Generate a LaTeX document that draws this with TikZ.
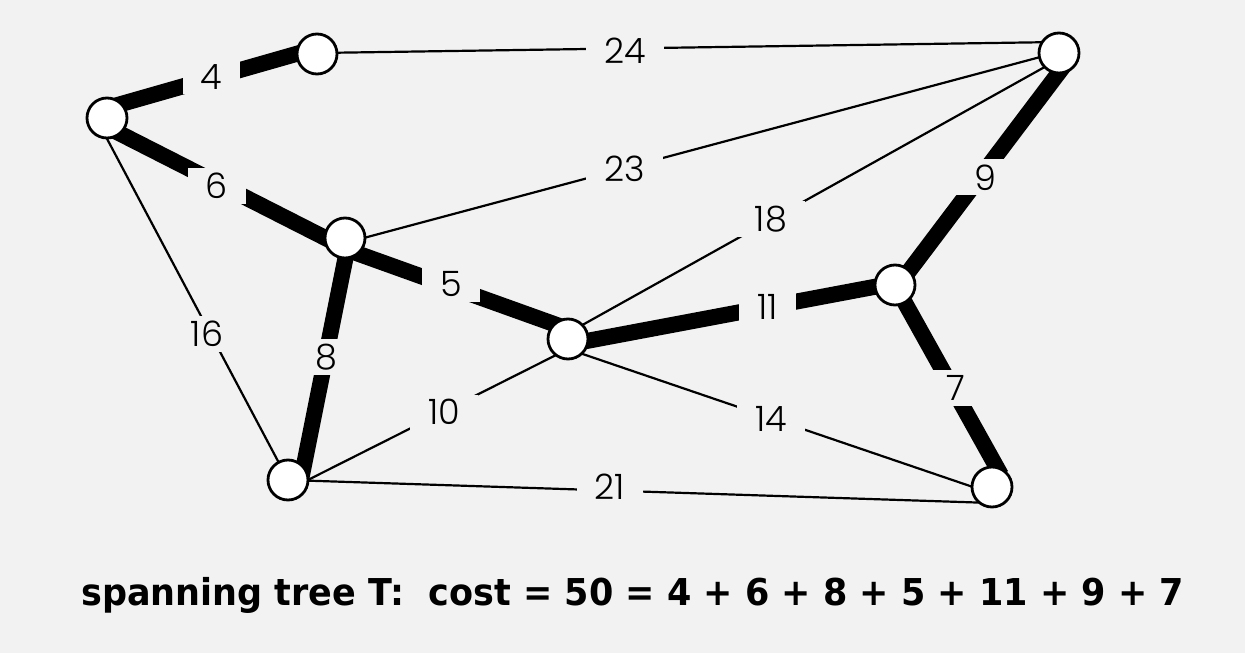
\documentclass[tikz,border=0pt]{standalone}
\usepackage{fontspec}
\setmainfont{DejaVu Sans}
\newfontfamily\lblfont{Poppins Light}
\newfontfamily\capfont[FakeStretch=0.946]{DejaVu Sans}
\usetikzlibrary{calc}
\definecolor{bgc}{HTML}{F2F2F2}
\pgfdeclarelayer{bg}\pgfdeclarelayer{edges}\pgfsetlayers{bg,edges,main}
\begin{document}
\begin{tikzpicture}[x=1pt,y=-1pt,
 vtx/.style={circle,draw=black,fill=white,line width=2.8pt,minimum size=40pt,inner sep=0pt},
 thinedge/.style={line width=2.2pt},
 treeedge/.style={line width=16pt},
 wlabel/.style={fill=bgc,inner xsep=18pt,inner ysep=5pt,font=\lblfont\fontsize{35}{35}\selectfont,text=black},
]
\begin{pgfonlayer}{bg}
\fill[bgc] (0,0) rectangle (1245,653);
\end{pgfonlayer}
\useasboundingbox (0,0) rectangle (1245,653);
\node[vtx] (A) at (107,118) {};
\node[vtx] (B) at (317,54) {};
\node[vtx] (C) at (1059,53) {};
\node[vtx] (D) at (345,238) {};
\node[vtx] (E) at (568,339) {};
\node[vtx] (F) at (895,285) {};
\node[vtx] (G) at (288,480) {};
\node[vtx] (H) at (992,487) {};
\begin{pgfonlayer}{edges}
\draw[treeedge] ($(A)+(0,-10)$) -- ($(B)+(0,-6)$);
\draw[treeedge] ($(A)+(0,9)$) -- ($(D)+(0,10)$);
\draw[treeedge] ($(D)+(0,11)$) -- ($(E)+(0,-10)$);
\draw[treeedge] ($(D)+(4.5,0)$) -- ($(G)+(13,0)$);
\draw[treeedge] ($(E)+(0,5.5)$) -- ($(F)+(0,-2)$);
\draw[treeedge] ($(F)+(3.5,0)$) -- ($(C)+(9,7.5)$);
\draw[treeedge] (F.center) -- ($(H)+(9,-12)$);
\draw[thinedge] ($(B)+(0,-1)$) -- ($(C)+(0,-11)$);
\draw[thinedge] ($(D)+(0,5)$) -- ($(C)+(0,-1)$);
\draw[thinedge] ($(E)+(0,-6)$) -- ($(C)+(0,6)$);
\draw[thinedge] ($(A)+(-11,0)$) -- (G.center);
\draw[thinedge] ($(G)+(0,10)$) -- ($(E)+(0,10)$);
\draw[thinedge] ($(E)+(0,10)$) -- ($(H)+(0,6.5)$);
\draw[thinedge] (G.center) -- ($(H)+(0,16)$);
\end{pgfonlayer}
\node[wlabel] (l4) at (211.7,76.7) {4};
\node[wlabel] (l6) at (216.7,185.7) {6};
\node[wlabel] (l24) at (625,50.7) {24};
\node[wlabel] (l23) at (624.3,169.3) {23};
\node[wlabel] (l18) at (771,219) {18};
\node[wlabel] (l5) at (451,284.3) {5};
\node[wlabel] (l8) at (326.7,356.7) {8};
\node[wlabel] (l11) at (767.3,306.7) {11};
\node[wlabel] (l14) at (771,419.3) {14};
\node[wlabel] (l10) at (444,412.3) {10};
\node[wlabel] (l21) at (610,486.7) {21};
\node[wlabel] (l9) at (985,177.3) {9};
\node[wlabel] (l7) at (956,388) {7};
\node[wlabel] (l16) at (207,334) {16};
\node[anchor=base west,inner sep=0pt,font=\capfont\bfseries\fontsize{37}{37}\selectfont] (cap) at (81,605) {spanning tree T:~~cost = 50 = 4 + 6 + 8 + 5 + 11 + 9 + 7};
\end{tikzpicture}
\end{document}
